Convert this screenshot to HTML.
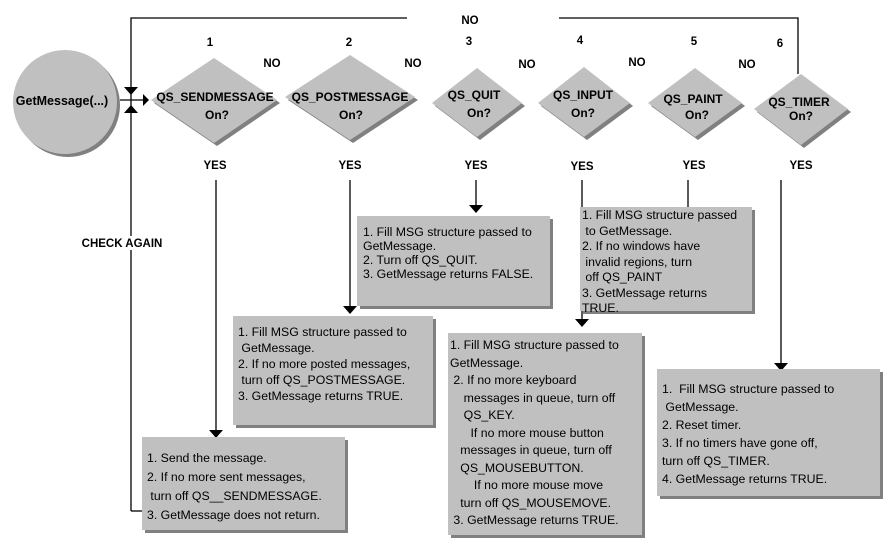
<!DOCTYPE html>
<html><head><style>
body{margin:0;background:#fff;width:886px;height:551px;overflow:hidden;position:relative;font-family:"Liberation Sans",sans-serif}
.b{position:absolute;background:#c0c0c0;box-shadow:3px 3px 0 #808080;font-size:12.3px;line-height:14px;color:#000;box-sizing:border-box;padding:6px 4px;white-space:nowrap}
</style></head><body>
<svg width="886" height="551" style="position:absolute;left:0;top:0" font-family="Liberation Sans" font-weight="bold" font-size="11">
<g stroke="#000" stroke-width="1.3" fill="none">
<polyline points="131,511 131,18 407,18"/>
<polyline points="559,18 798,18 798,74"/>
<line x1="131" y1="511" x2="142" y2="511"/>
<line x1="120" y1="100" x2="146" y2="100"/>
<line x1="216" y1="180" x2="216" y2="430"/>
<line x1="350" y1="180" x2="350" y2="306"/>
<line x1="476" y1="180" x2="476" y2="205"/>
<line x1="582" y1="180" x2="582" y2="320"/>
<line x1="688" y1="180" x2="688" y2="207"/>
<line x1="781" y1="180" x2="781" y2="363"/>
</g>
<g fill="#000">
<polygon points="124,87 138,87 131,95"/>
<polygon points="124,113 138,113 131,105"/>
<polygon points="143,94 149,100 143,106"/>
<polygon points="209,430 223,430 216,438"/>
<polygon points="343,306 357,306 350,314"/>
<polygon points="469,205 483,205 476,213"/>
<polygon points="575,319 589,319 582,327"/>
<polygon points="774,363 788,363 781,371"/>
</g>
<circle cx="68" cy="105" r="52" fill="#808080"/>
<circle cx="65" cy="102" r="52" fill="#c0c0c0"/>
<g fill="#808080">
<polygon points="217,61 280,103 217,146 154,103"/>
<polygon points="353,58 418,100 353,143 288,100"/>
<polygon points="480,71 525,106 480,140 435,106"/>
<polygon points="587,70 633,106 587,140 541,106"/>
<polygon points="698,71 745,106 698,140 651,106"/>
<polygon points="804,77 851,112 804,148 757,112"/>
</g>
<g fill="#c0c0c0">
<polygon points="214,58 277,100 214,143 151,100"/>
<polygon points="350,55 415,97 350,140 285,97"/>
<polygon points="477,68 522,103 477,137 432,103"/>
<polygon points="584,67 630,103 584,137 538,103"/>
<polygon points="695,68 742,103 695,137 648,103"/>
<polygon points="801,74 848,109 801,145 754,109"/>
</g>
<rect x="80" y="236" width="84" height="14" fill="#fff"/>
<text x="62" y="105" text-anchor="middle" font-size="12.5">GetMessage(...)</text>
<g text-anchor="middle" font-size="12">
<text x="215" y="101">QS_SENDMESSAGE</text><text x="217" y="119">On?</text>
<text x="350" y="101">QS_POSTMESSAGE</text><text x="351" y="119">On?</text>
<text x="474" y="99">QS_QUIT</text><text x="479" y="117">On?</text>
<text x="583" y="99">QS_INPUT</text><text x="583" y="117">On?</text>
<text x="693" y="103">QS_PAINT</text><text x="697" y="119">On?</text>
<text x="799" y="106">QS_TIMER</text><text x="801" y="120">On?</text>
</g>
<g text-anchor="middle" font-size="11.5">
<text x="210" y="46">1</text><text x="349" y="46">2</text><text x="469" y="45">3</text>
<text x="580" y="44">4</text><text x="694" y="45">5</text><text x="780" y="47">6</text>
<text x="272" y="67">NO</text><text x="413" y="67">NO</text><text x="527" y="68">NO</text>
<text x="637" y="66">NO</text><text x="747" y="68">NO</text><text x="470" y="24">NO</text>
<text x="215" y="169">YES</text><text x="350" y="169">YES</text><text x="476" y="169">YES</text>
<text x="582" y="170">YES</text><text x="694" y="169">YES</text><text x="801" y="169">YES</text>
<text x="122" y="247">CHECK AGAIN</text>
</g>
</svg>
<div class="b" style="left:357px;top:216px;width:193px;height:90px;padding:9px 6px">1. Fill MSG structure passed to<br>GetMessage.<br>2. Turn off QS_QUIT.<br>3. GetMessage returns FALSE.</div>
<div class="b" style="left:580px;top:207px;width:172px;height:104px;padding:1px 2px;line-height:15.5px">1. Fill MSG structure passed<br>&nbsp;to GetMessage.<br>2. If no windows have<br>&nbsp;invalid regions, turn<br>&nbsp;off QS_PAINT<br>3. GetMessage returns<br>TRUE.</div>
<div class="b" style="left:233px;top:316px;width:200px;height:109px;padding:8px 5px;line-height:16px">1. Fill MSG structure passed to<br>&nbsp;GetMessage.<br>2. If no more posted messages,<br>&nbsp;turn off QS_POSTMESSAGE.<br>3. GetMessage returns TRUE.</div>
<div class="b" style="left:142px;top:437px;width:203px;height:93px;padding:12px 5px;line-height:19px">1. Send the message.<br>2. If no more sent messages,<br>&nbsp;turn off QS__SENDMESSAGE.<br>3. GetMessage does not return.</div>
<div class="b" style="left:448px;top:333px;width:194px;height:202px;padding:4px 2px;line-height:17.5px">1. Fill MSG structure passed to<br>GetMessage.<br>&nbsp;2. If no more keyboard<br>&nbsp;&nbsp;&nbsp;&nbsp;messages in queue, turn off<br>&nbsp;&nbsp;&nbsp;&nbsp;QS_KEY.<br>&nbsp;&nbsp;&nbsp;&nbsp;&nbsp;&nbsp;If no more mouse button<br>&nbsp;&nbsp;&nbsp;messages in queue, turn off<br>&nbsp;&nbsp;&nbsp;QS_MOUSEBUTTON.<br>&nbsp;&nbsp;&nbsp;&nbsp;&nbsp;&nbsp;&nbsp;If no more mouse move<br>&nbsp;&nbsp;&nbsp;turn off QS_MOUSEMOVE.<br>&nbsp;3. GetMessage returns TRUE.</div>
<div class="b" style="left:657px;top:369px;width:223px;height:127px;padding:11px 5px;line-height:18px">1.&nbsp; Fill MSG structure passed to<br>&nbsp;GetMessage.<br>2. Reset timer.<br>3. If no timers have gone off,<br>turn off QS_TIMER.<br>4. GetMessage returns TRUE.</div>
</body></html>
